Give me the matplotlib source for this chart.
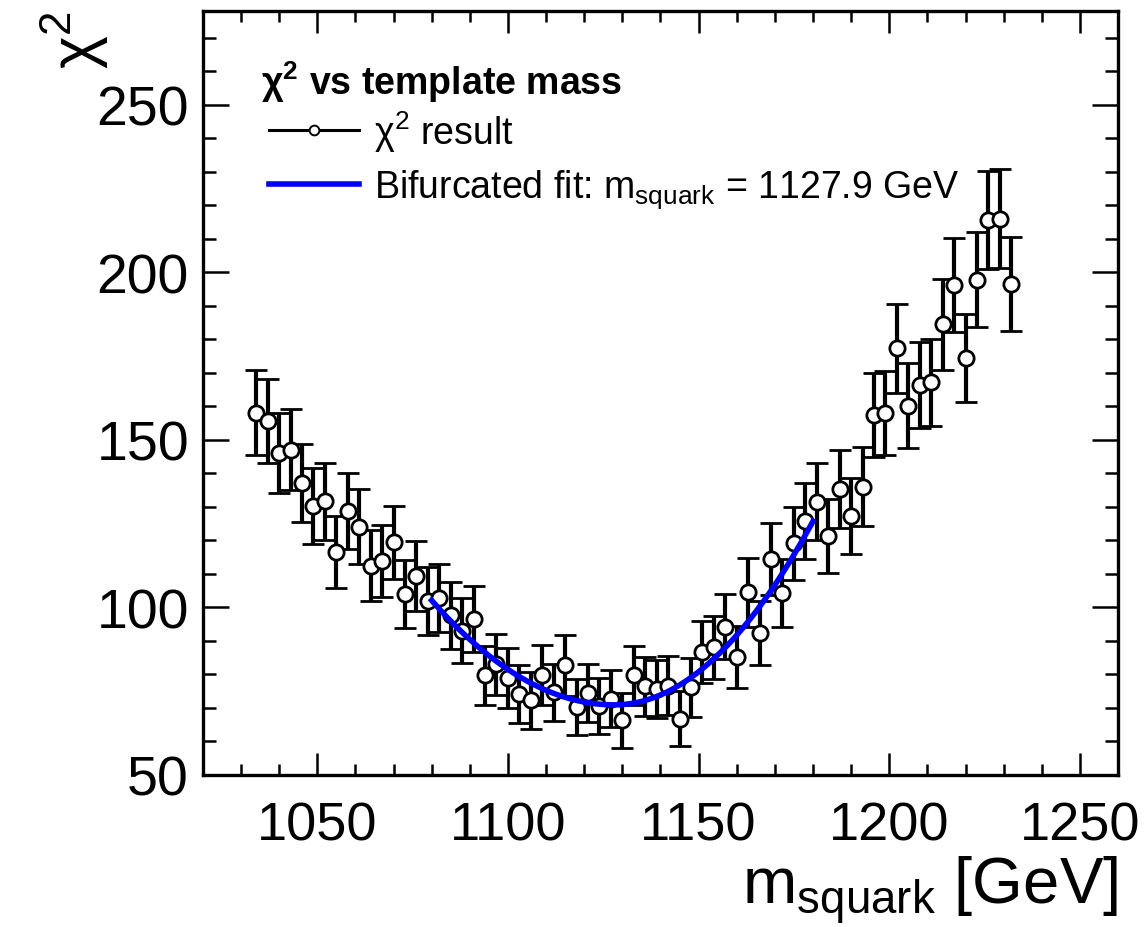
import numpy as np
import matplotlib
matplotlib.use('Agg')
import matplotlib.pyplot as plt
from matplotlib.ticker import MultipleLocator
from matplotlib.lines import Line2D

plt.rcParams['font.family'] = ['Liberation Sans', 'DejaVu Sans']
plt.rcParams['mathtext.fontset'] = 'custom'
plt.rcParams['mathtext.rm'] = 'Liberation Sans'
plt.rcParams['mathtext.it'] = 'Liberation Sans:italic'
plt.rcParams['mathtext.bf'] = 'Liberation Sans:bold'

# template masses [GeV] and chi2 values
mass = [1034, 1037, 1040, 1043, 1046, 1049, 1052, 1055, 1058, 1061,
        1064, 1067, 1070, 1073, 1076, 1079, 1082, 1085, 1088, 1091,
        1094, 1097, 1100, 1103, 1106, 1109, 1112, 1115, 1118, 1121,
        1124, 1127, 1130, 1133, 1136, 1139, 1142, 1145, 1148, 1151,
        1154, 1157, 1160, 1163, 1166, 1169, 1172, 1175, 1178, 1181,
        1184, 1187, 1190, 1193, 1196, 1199, 1202, 1205, 1208, 1211,
        1214, 1217, 1220, 1223, 1226, 1229, 1232]
chi2 = [158.1, 155.6, 146.0, 147.0, 137.1, 130.2, 131.6, 116.5, 128.7, 124.0,
        112.3, 113.8, 119.4, 103.9, 109.2, 101.8, 102.6, 97.5, 93.0, 96.4,
        79.6, 83.0, 78.8, 74.1, 72.2, 79.8, 74.5, 82.6, 70.1, 74.3,
        70.5, 72.6, 66.2, 79.6, 76.3, 75.5, 76.5, 66.7, 76.0, 86.5,
        88.0, 94.2, 85.0, 104.4, 92.3, 114.4, 104.2, 119.0, 125.7, 131.5,
        121.2, 135.3, 127.2, 136.0, 157.4, 157.9, 177.3, 160.1, 166.4, 167.1,
        184.5, 196.1, 174.3, 197.8, 215.5, 216.0, 196.6]

# bifurcated parabola fit
fit_min = 1127.9
fit_c = 70.8
fit_aL = 0.0136
fit_aR = 0.0202
fit_range = (1080, 1180)

mass = np.array(mass)
chi2 = np.array(chi2)
err = np.sqrt(chi2)

fig = plt.figure(figsize=(11.46, 9.28), dpi=100)
ax = fig.add_axes([0.177, 0.1643, 0.7986, 0.8228])

ax.errorbar(mass, chi2, yerr=err, fmt='o', ms=11, mfc='white', mec='black', mew=2.0,
            ecolor='black', elinewidth=3.0, capsize=8, capthick=3.0, zorder=2)

xf = np.linspace(fit_range[0], fit_range[1], 400)
yf = np.where(xf < fit_min, fit_c + fit_aL*(xf - fit_min)**2, fit_c + fit_aR*(xf - fit_min)**2)
ax.plot(xf, yf, color='blue', lw=4.0, zorder=3)

ax.set_xlim(1020, 1260)
ax.set_ylim(50, 278)
ax.xaxis.set_major_locator(MultipleLocator(50))
ax.xaxis.set_minor_locator(MultipleLocator(10))
ax.yaxis.set_major_locator(MultipleLocator(50))
ax.yaxis.set_minor_locator(MultipleLocator(10))
ax.tick_params(which='both', direction='in', top=True, right=True, width=1.8, labelsize=39)
ax.tick_params(axis='y', labelsize=40)
ax.tick_params(axis='x', which='major', length=16, pad=19)
ax.tick_params(axis='x', which='minor', length=8)
ax.tick_params(axis='y', which='major', length=19, pad=10)
ax.tick_params(axis='y', which='minor', length=9.5)
for s in ax.spines.values():
    s.set_linewidth(2.4)

ax.set_xlabel(r'm$_{\mathregular{squark}}$ [GeV]', fontsize=47, loc='right', labelpad=2)
fig.text(0.066, 0.988, r'χ$^{2}$', fontsize=45, rotation=90, ha='center', va='top')

# legend header and entries
ax.text(0.064, 0.908, r'χ$^{\mathbf{2}}$ vs template mass', transform=ax.transAxes,
        fontsize=27, fontweight='bold', ha='left', va='center')
handles = [Line2D([], [], color='black', lw=2.2, marker='o', ms=7, mfc='white', mec='black', mew=1.4),
           Line2D([], [], color='blue', lw=4.0)]
labels = [r'χ$^{2}$ result', r'Bifurcated fit: m$_{\mathregular{squark}}$ = 1127.9 GeV']
leg = ax.legend(handles, labels, loc='upper left', bbox_to_anchor=(0.072, 0.873),
                frameon=False, fontsize=27, handlelength=2.4, handletextpad=0.4,
                borderpad=0.0, borderaxespad=0.0, labelspacing=0.38)

fig.savefig('out.png', dpi=100)
